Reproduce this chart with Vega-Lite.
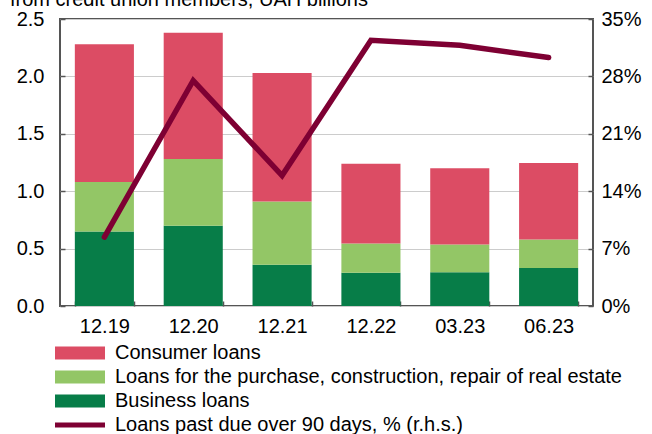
{
  "$schema": "https://vega.github.io/schema/vega-lite/v6.json",
  "autosize": "none",
  "width": 533,
  "height": 287,
  "padding": {"left": 60, "top": 19, "right": 59, "bottom": 128},
  "background": "white",
  "config": {
    "font": "Liberation Sans",
    "view": {"stroke": "#555555", "strokeWidth": 2},
    "axis": {"labelFont": "Liberation Sans", "labelFontSize": 20, "labelColor": "#000000", "domain": false, "tickColor": "#555555", "tickWidth": 1.5, "titleFontSize": 1},
    "legend": {"labelFont": "Liberation Sans", "labelFontSize": 20, "labelColor": "#000000", "padding": 0, "labelLimit": 0}
  },
  "title": {"text": "from credit union members, UAH billions", "anchor": "start", "dx": -50, "dy": 17, "offset": 0, "baseline": "alphabetic", "fontSize": 20, "fontWeight": "normal", "font": "Liberation Sans", "color": "#000000", "frame": "group"},
  "datasets": {
    "bars": [
      {"period": "12.19", "series": "Business loans", "ord": 1, "value": 0.65},
      {"period": "12.19", "series": "Loans for the purchase, construction, repair of real estate", "ord": 2, "value": 0.43},
      {"period": "12.19", "series": "Consumer loans", "ord": 3, "value": 1.20},
      {"period": "12.20", "series": "Business loans", "ord": 1, "value": 0.70},
      {"period": "12.20", "series": "Loans for the purchase, construction, repair of real estate", "ord": 2, "value": 0.58},
      {"period": "12.20", "series": "Consumer loans", "ord": 3, "value": 1.10},
      {"period": "12.21", "series": "Business loans", "ord": 1, "value": 0.36},
      {"period": "12.21", "series": "Loans for the purchase, construction, repair of real estate", "ord": 2, "value": 0.55},
      {"period": "12.21", "series": "Consumer loans", "ord": 3, "value": 1.12},
      {"period": "12.22", "series": "Business loans", "ord": 1, "value": 0.29},
      {"period": "12.22", "series": "Loans for the purchase, construction, repair of real estate", "ord": 2, "value": 0.255},
      {"period": "12.22", "series": "Consumer loans", "ord": 3, "value": 0.695},
      {"period": "03.23", "series": "Business loans", "ord": 1, "value": 0.295},
      {"period": "03.23", "series": "Loans for the purchase, construction, repair of real estate", "ord": 2, "value": 0.24},
      {"period": "03.23", "series": "Consumer loans", "ord": 3, "value": 0.665},
      {"period": "06.23", "series": "Business loans", "ord": 1, "value": 0.33},
      {"period": "06.23", "series": "Loans for the purchase, construction, repair of real estate", "ord": 2, "value": 0.25},
      {"period": "06.23", "series": "Consumer loans", "ord": 3, "value": 0.665}
    ],
    "line": [
      {"period": "12.19", "pct": 8.4},
      {"period": "12.20", "pct": 27.5},
      {"period": "12.21", "pct": 15.9},
      {"period": "12.22", "pct": 32.4},
      {"period": "03.23", "pct": 31.8},
      {"period": "06.23", "pct": 30.3}
    ]
  },
  "encoding": {
    "x": {
      "field": "period", "type": "ordinal", "sort": null,
      "scale": {"paddingInner": 0.335, "paddingOuter": 0.167},
      "axis": {"title": null, "labelAngle": 0, "tickBand": "extent", "tickSize": -5, "labelPadding": 15, "grid": false}
    }
  },
  "layer": [
    {
      "data": {"name": "bars"},
      "mark": {"type": "bar"},
      "encoding": {
        "y": {
          "field": "value", "type": "quantitative", "stack": "zero",
          "scale": {"domain": [0, 2.5], "nice": false},
          "axis": {"title": null, "values": [0, 0.5, 1, 1.5, 2, 2.5], "format": ".1f", "grid": true, "gridColor": "#cccccc", "gridWidth": 1, "tickSize": -5, "labelPadding": 21}
        },
        "fill": {
          "field": "series", "type": "nominal",
          "scale": {
            "domain": ["Consumer loans", "Loans for the purchase, construction, repair of real estate", "Business loans"],
            "range": ["#DC4C64", "#93C666", "#077D48"]
          },
          "legend": {
            "title": null, "orient": "none", "legendX": -10, "legendY": 324,
            "symbolType": "M-1,-1.3H9V1.3H-1Z", "symbolSize": 100, "symbolStrokeWidth": 0,
            "labelOffset": 45, "rowPadding": 4, "labelLimit": 0
          }
        },
        "order": {"field": "ord", "type": "quantitative"}
      }
    },
    {
      "data": {"name": "line"},
      "mark": {"type": "line", "strokeWidth": 5.5, "strokeCap": "round", "strokeJoin": "miter"},
      "encoding": {
        "y": {
          "field": "pct", "type": "quantitative",
          "scale": {"domain": [0, 35], "nice": false},
          "axis": {"title": null, "orient": "right", "values": [0, 7, 14, 21, 28, 35], "labelExpr": "datum.value + '%'", "grid": false, "tickSize": -5, "labelPadding": 13}
        },
        "stroke": {
          "datum": "Loans past due over 90 days, % (r.h.s.)",
          "type": "nominal",
          "scale": {"range": ["#7E0033"]},
          "legend": {
            "title": null, "orient": "none", "legendX": -10, "legendY": 396,
            "symbolType": "M-1,0H9", "symbolSize": 100, "symbolStrokeWidth": 5, "symbolStrokeColor": "#7E0033",
            "labelOffset": 45, "labelLimit": 0
          }
        }
      }
    }
  ],
  "resolve": {"scale": {"y": "independent"}}
}
